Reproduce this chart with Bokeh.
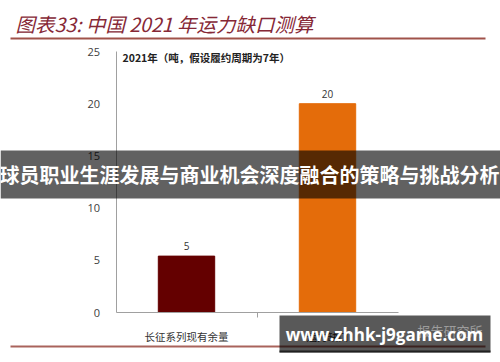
from bokeh.plotting import figure
from bokeh.models import FixedTicker, Label, BoxAnnotation, Range1d, LinearAxis
from bokeh.core.properties import value
from bokeh.embed import file_html
from bokeh.resources import INLINE

# ---- data ----
categories = ["长征系列现有余量", "运力缺口"]
values = [5.4, 20]
value_labels = ["%d" % round(v) for v in values]
bar_colors = ["#640000", "#E46C0A"]
y_ticks = [0, 5, 10, 15, 20, 25]
title_text = "图表33:  中国 2021 年运力缺口测算"
subtitle_text = "2021年（吨，假设履约周期为7年）"
banner_text = "球员职业生涯发展与商业机会深度融合的策略与挑战分析"
watermark_text = "www.zhhk-j9game.com"
source_text = "报告研究所"

W, H = 500, 362
# pixel geometry of the plotting area inside the canvas
X_FIRST, CAT_W = 186, 141          # centre of first category, px per category
Y_ZERO, Y_TOP, Y_MAX = 312, 51, 25  # px of 0, px of 25
k = (Y_ZERO - Y_TOP) / Y_MAX

positions = [i + 1 for i in range(len(categories))]
x_start = 1 - X_FIRST / CAT_W
x_end = x_start + W / CAT_W
y_start = -(H - Y_ZERO) / k
y_end = Y_MAX + Y_TOP / k

p = figure(width=W, height=H, x_range=Range1d(x_start, x_end), y_range=Range1d(y_start, y_end),
           output_backend="svg", toolbar_location=None, x_axis_location=None,
           y_axis_location=None, min_border=0)
p.outline_line_color = None
p.grid.grid_line_color = None
p.background_fill_color = "white"
p.border_fill_color = "white"

p.vbar(x=positions, top=values, width=0.4, color=bar_colors)
p.text(x=positions, y=values, text=value_labels, y_offset=-6,
       text_align="center", text_baseline="bottom", text_font=value("Open Sans"),
       text_font_size="10px", text_color="#333333")

yax = LinearAxis(fixed_location=0.5, bounds=(0, Y_MAX), ticker=FixedTicker(ticks=y_ticks))
yax.major_tick_line_color = None
yax.minor_tick_line_color = None
yax.axis_line_color = "#A0A0A0"
yax.major_label_standoff = 10
yax.major_label_text_font = "Open Sans"
yax.major_label_text_font_size = "11px"
yax.major_label_text_color = "#404040"
p.add_layout(yax, "left")

xax = LinearAxis(fixed_location=0, bounds=(0.5, len(categories) + 0.5),
                 ticker=FixedTicker(ticks=positions, minor_ticks=[1.5]))
xax.major_label_overrides = {pos: c for pos, c in zip(positions, categories)}
xax.major_tick_line_color = None
xax.minor_tick_line_color = "#A0A0A0"
xax.minor_tick_in = 0
xax.minor_tick_out = 5
xax.axis_line_color = "#A0A0A0"
xax.major_label_standoff = 10
xax.major_label_text_font = "Noto Sans CJK SC"
xax.major_label_text_font_size = "10.5px"
xax.major_label_text_color = "#333333"
p.add_layout(xax, "below")


def sx(x):
    return x


def sy(y):
    return H - y


def box(x0, y0, x1, y1, color, alpha):
    p.add_layout(BoxAnnotation(left=sx(x0), right=sx(x1), top=sy(y0), bottom=sy(y1),
                               left_units="screen", right_units="screen",
                               top_units="screen", bottom_units="screen",
                               fill_color=color, fill_alpha=alpha, line_color=None,
                               level="overlay"))


def label(x, y, text, size, color, font="Noto Sans CJK SC", style="normal",
          align="left", baseline="middle"):
    p.add_layout(Label(x=sx(x), y=sy(y), x_units="screen", y_units="screen", text=text,
                       text_font=font, text_font_size=size, text_color=color,
                       text_font_style=style, text_align=align, text_baseline=baseline,
                       level="overlay"))


# title and rules
label(15, 23, title_text, "19.5px", "#862836", style="italic")
box(10, 37, 485, 39, "#A0524A", 1.0)
box(10, 345, 485, 347, "#A0524A", 0.9)
label(122, 57, subtitle_text, "10.5px", "#222222", style="bold")

# overlays
box(0, 150, 500, 198, "black", 0.62)
label(249, 174, banner_text, "20px", "white", style="bold", align="center")
box(279, 315, 490, 352, "black", 0.65)
box(279, 350, 490, 352, "#111111", 0.8)
label(482, 330, source_text, "13px", "#9C9C9C", align="right")
label(384, 334, watermark_text, "17px", "white", font="Open Sans", style="bold", align="center")

open("out.html", "w").write(file_html(p, INLINE))
